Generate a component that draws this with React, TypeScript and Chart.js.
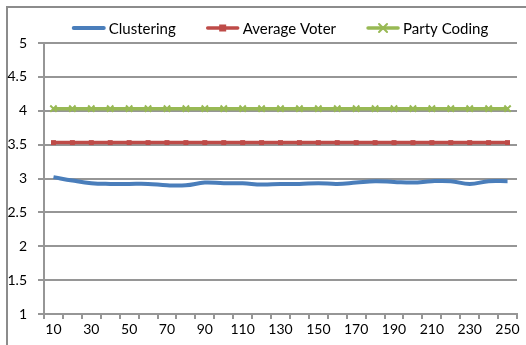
import React, { useEffect, useRef } from "react";
import { Chart, registerables } from "chart.js";

Chart.register(...registerables);

const categories = [
  "10", "20", "30", "40", "50", "60", "70", "80", "90", "100",
  "110", "120", "130", "140", "150", "160", "170", "180", "190", "200",
  "210", "220", "230", "240", "250",
];
const clustering = [
  3.02, 2.97, 2.93, 2.92, 2.92, 2.92, 2.9, 2.9, 2.94, 2.93,
  2.93, 2.91, 2.92, 2.92, 2.93, 2.92, 2.94, 2.96, 2.95, 2.94,
  2.96, 2.96, 2.92, 2.96, 2.96,
];
const averageVoter = categories.map(() => 3.53);
const partyCoding = categories.map(() => 4.03);
const yTicks = [1, 1.5, 2, 2.5, 3, 3.5, 4, 4.5, 5];

const BLUE = "#4a7ebb";
const RED = "#be4b48";
const GREEN = "#98b954";
const GRID = "#969696";
const FONT = "Lato, 'Open Sans', sans-serif";

const legendPlugin = {
  id: "customLegend",
  afterDraw(chart: any) {
    const ctx = chart.ctx;
    const area = chart.chartArea;
    const items = [
      { label: "Clustering", color: BLUE, marker: "none" },
      { label: "Average Voter", color: RED, marker: "rect" },
      { label: "Party Coding", color: GREEN, marker: "x" },
    ];
    const lineLen = 32;
    const gap = 4;
    const spacing = 31;
    ctx.save();
    ctx.font = `15px ${FONT}`;
    const widths = items.map((it) => ctx.measureText(it.label).width);
    let total = 0;
    widths.forEach((w, i) => {
      total += lineLen + gap + w + (i < items.length - 1 ? spacing : 0);
    });
    let x = (area.left + area.right) / 2 - total / 2;
    const y = 28;
    items.forEach((it, i) => {
      ctx.strokeStyle = it.color;
      ctx.fillStyle = it.color;
      ctx.lineWidth = it.marker === "none" ? 4 : 3.5;
      ctx.lineCap = "round";
      ctx.beginPath();
      ctx.moveTo(x + 1, y);
      ctx.lineTo(x + lineLen - 1, y);
      ctx.stroke();
      const cx = x + lineLen / 2;
      if (it.marker === "rect") {
        ctx.fillRect(cx - 3.5, y - 3.5, 7, 7);
      } else if (it.marker === "x") {
        ctx.lineWidth = 2;
        ctx.beginPath();
        ctx.moveTo(cx - 4, y - 4);
        ctx.lineTo(cx + 4, y + 4);
        ctx.moveTo(cx + 4, y - 4);
        ctx.lineTo(cx - 4, y + 4);
        ctx.stroke();
      }
      ctx.fillStyle = "#000";
      ctx.textBaseline = "middle";
      ctx.textAlign = "left";
      ctx.fillText(it.label, x + lineLen + gap, y + 1);
      x += lineLen + gap + widths[i] + spacing;
    });
    ctx.restore();
  },
};

export default function App() {
  const ref = useRef<HTMLCanvasElement | null>(null);
  useEffect(() => {
    if (!ref.current) return;
    const chart = new Chart(ref.current, {
      type: "line",
      data: {
        labels: categories,
        datasets: [
          {
            label: "Clustering",
            data: clustering,
            borderColor: BLUE,
            backgroundColor: BLUE,
            borderWidth: 4,
            pointRadius: 0,
            tension: 0.4,
          },
          {
            label: "Average Voter",
            data: averageVoter,
            borderColor: RED,
            backgroundColor: RED,
            borderWidth: 3.5,
            pointStyle: "rect",
            pointRadius: 3.5,
            pointBorderWidth: 0,
          },
          {
            label: "Party Coding",
            data: partyCoding,
            borderColor: GREEN,
            backgroundColor: GREEN,
            borderWidth: 3.5,
            pointStyle: "crossRot",
            pointRadius: 4.5,
            pointBorderWidth: 2,
          },
        ],
      },
      options: {
        animation: false,
        responsive: false,
        maintainAspectRatio: false,
        layout: { padding: { top: 43, right: 9, left: 0, bottom: 0 } },
        plugins: { legend: { display: false }, tooltip: { enabled: false } },
        scales: {
          x: {
            type: "category",
            offset: true,
            afterFit: (s: any) => {
              s.height = 31;
            },
            grid: {
              offset: true,
              drawOnChartArea: false,
              drawTicks: true,
              tickLength: 5,
              color: GRID,
              lineWidth: 2,
            },
            border: { display: true, color: GRID, width: 2 },
            ticks: {
              autoSkip: false,
              maxRotation: 0,
              padding: 2,
              color: "#000",
              font: { family: FONT, size: 14 },
              callback: (_v: any, i: number) => (i % 2 === 0 ? categories[i] : ""),
            },
          },
          y: {
            min: 1,
            max: 5,
            afterFit: (s: any) => {
              s.width = 44;
            },
            afterBuildTicks: (s: any) => {
              s.ticks = yTicks.map((v) => ({ value: v }));
            },
            grid: {
              color: GRID,
              lineWidth: 2,
              drawTicks: true,
              tickLength: 6,
            },
            border: { display: true, color: GRID, width: 2 },
            ticks: {
              color: "#000",
              padding: 11,
              font: { family: FONT, size: 14 },
              callback: (v: any) => String(v),
            },
          },
        },
      },
      plugins: [legendPlugin],
    } as any);
    return () => chart.destroy();
  }, []);

  return (
    <div
      style={{
        position: "fixed",
        left: 0,
        top: 0,
        width: 526,
        height: 345,
        overflow: "hidden",
        background: "#fff",
      }}
    >
      <div
        style={{
          position: "absolute",
          left: 6,
          top: 6,
          width: 600,
          height: 400,
          border: "2px solid #8c8c8c",
        }}
      />
      <canvas
        ref={ref}
        width={526}
        height={345}
        style={{ position: "absolute", left: 0, top: 0, width: 526, height: 345 }}
      />
    </div>
  );
}
